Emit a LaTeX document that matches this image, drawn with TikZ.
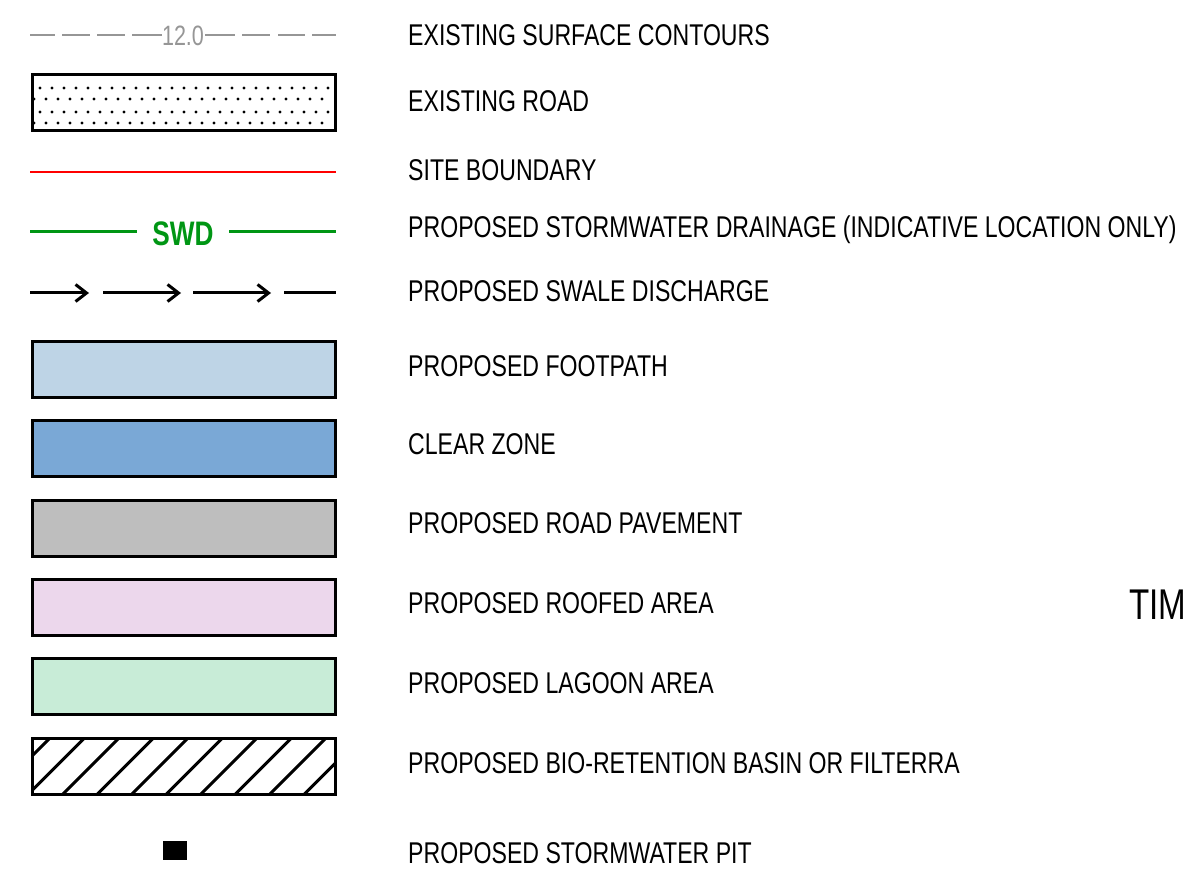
\documentclass[tikz,border=0pt]{standalone}
\usepackage{fontspec}
\setmainfont[FakeStretch=0.77]{Liberation Sans}
\usetikzlibrary{arrows.meta}

\definecolor{contourgrey}{RGB}{150,150,150}
\definecolor{swdgreen}{RGB}{0,150,20}
\definecolor{footpathblue}{RGB}{190,212,230}
\definecolor{clearblue}{RGB}{122,168,214}
\definecolor{pavegrey}{RGB}{190,190,190}
\definecolor{roofpink}{RGB}{236,215,236}
\definecolor{lagoongreen}{RGB}{200,236,215}

\tikzset{
  legtext/.style={anchor=west, font=\fontsize{30}{31}\selectfont, inner sep=0pt},
  legbox/.style={draw=black, line width=3pt},
}

\begin{document}
\begin{tikzpicture}[x=1pt, y=-1pt]
    \useasboundingbox (0,0) rectangle (1190,882);

    % Existing surface contours
    \node[font=\fontsize{28}{28}\selectfont, text=contourgrey, inner sep=1pt] (lvl) at (183,36) {12.0};
    \foreach \a/\b in {30/55, 62/90, 97/125, 132/162}
        \draw[contourgrey, line width=1.5pt] (\a,35) -- (\b,35);
    \foreach \a/\b in {205/235, 242/270, 278/305, 312/336}
        \draw[contourgrey, line width=1.5pt] (\a,35) -- (\b,35);
    \node[legtext] (t1) at (408,35) {EXISTING SURFACE CONTOURS};

    % Existing road
    \draw[legbox] (32,75) rectangle (335,131);
    \foreach \r/\o in {88/40, 99/34, 112/40, 123/34}
        \foreach \k in {0,...,24}
            \fill ({\o+\k*12},\r) circle (1.7pt);
    \node[legtext] (t2) at (408,101) {EXISTING ROAD};

    % Site boundary
    \draw[red, line width=2pt] (30,172) -- (336,172);
    \node[legtext] (t3) at (408,170) {SITE BOUNDARY};

    % Stormwater drainage
    \node[font=\bfseries\fontsize{34}{34}\selectfont, text=swdgreen, inner sep=2pt] (swd) at (183,234) {SWD};
    \draw[swdgreen, line width=3pt] (30,232) -- (137,232);
    \draw[swdgreen, line width=3pt] (229,232) -- (336,232);
    \node[legtext] (t4) at (408,230) {PROPOSED STORMWATER DRAINAGE (INDICATIVE LOCATION ONLY)};

    % Swale discharge
    \foreach \a/\b in {30/89, 103/181, 193/271}
        \draw[line width=3pt, -{Straight Barb[length=11pt, width=17pt, line width=3pt]}] (\a,293) -- (\b,293);
    \draw[line width=3pt] (284,293) -- (336,293);
    \node[legtext] (t5) at (408,291) {PROPOSED SWALE DISCHARGE};

    % Filled areas
    \draw[legbox, fill=footpathblue] (32,341) rectangle (335,397);
    \node[legtext] (t6) at (408,366) {PROPOSED FOOTPATH};

    \draw[legbox, fill=clearblue] (32,420) rectangle (335,476);
    \node[legtext] (t7) at (408,444) {CLEAR ZONE};

    \draw[legbox, fill=pavegrey] (32,500) rectangle (335,556);
    \node[legtext] (t8) at (408,523) {PROPOSED ROAD PAVEMENT};

    \draw[legbox, fill=roofpink] (32,579) rectangle (335,635);
    \node[legtext] (t9) at (408,603) {PROPOSED ROOFED AREA};

    \draw[legbox, fill=lagoongreen] (32,658) rectangle (335,714);
    \node[legtext] (t10) at (408,683) {PROPOSED LAGOON AREA};

    % Bio-retention basin
    \begin{scope}
        \clip (32,738) rectangle (335,794);
        \foreach \k in {0,...,10}
            \draw[line width=3pt] ({\k*34.5-6},794) -- ({\k*34.5+50},738);
    \end{scope}
    \draw[legbox] (32,738) rectangle (335,794);
    \node[legtext] (t11) at (408,763) {PROPOSED BIO-RETENTION BASIN OR FILTERRA};

    % Stormwater pit
    \fill (163,841) rectangle (187,860);
    \node[legtext] (t12) at (408,853) {PROPOSED STORMWATER PIT};

    \node[legtext, font=\fontsize{43}{43}\selectfont] (tim) at (1129,605) {TIM};
\end{tikzpicture}
\end{document}
